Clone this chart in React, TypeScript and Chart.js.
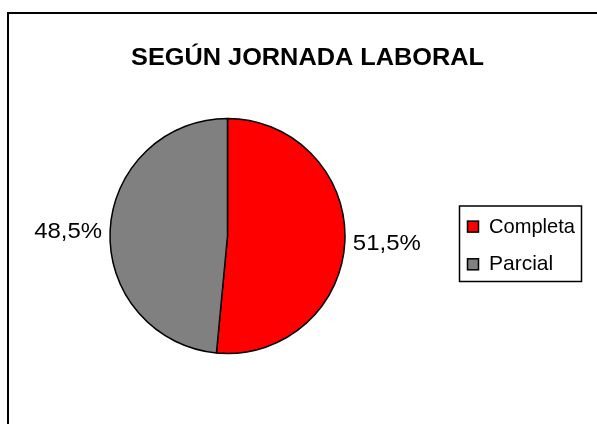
import React, { useEffect, useRef } from "react";
import { Chart, registerables } from "chart.js";

Chart.register(...registerables);

const chartTitle = "SEGÚN JORNADA LABORAL";
const categories = ["Completa", "Parcial"];
const shares = [51.5, 48.5];
const sliceColors = ["#FF0000", "#808080"];

const FONT = "'Liberation Sans', Arial, Helvetica, sans-serif";

function drawText(
  ctx: CanvasRenderingContext2D,
  text: string,
  x: number,
  baseline: number,
  font: string,
  align: "left" | "right" | "center",
  targetWidth?: number
) {
  ctx.save();
  ctx.font = font;
  ctx.fillStyle = "#000";
  ctx.textBaseline = "alphabetic";
  ctx.textAlign = "left";
  const w = ctx.measureText(text).width;
  const sx = targetWidth ? targetWidth / w : 1;
  const drawnW = w * sx;
  let left = x;
  if (align === "right") left = x - drawnW;
  if (align === "center") left = x - drawnW / 2;
  ctx.translate(left, baseline);
  ctx.scale(sx, 1);
  ctx.fillText(text, 0, 0);
  ctx.restore();
}

const decorPlugin = {
  id: "decor",
  afterDraw(chart: any) {
    const ctx: CanvasRenderingContext2D = chart.ctx;
    // outer frame
    ctx.save();
    ctx.strokeStyle = "#000";
    ctx.lineWidth = 2;
    ctx.strokeRect(8, 13, 800, 600);
    ctx.restore();

    // title
    drawText(ctx, chartTitle, 307.5, 64.8, `bold 23px ${FONT}`, "center", 353);

    // data labels
    const meta = chart.getDatasetMeta(0);
    const data: number[] = chart.data.datasets[0].data;
    const total = data.reduce((a, b) => a + b, 0);
    meta.data.forEach((arc: any, i: number) => {
      const p = arc.getProps(["x", "y", "startAngle", "endAngle", "outerRadius"], true);
      const mid = (p.startAngle + p.endAngle) / 2;
      const r = p.outerRadius + 8;
      const px = p.x + Math.cos(mid) * r;
      const py = p.y + Math.sin(mid) * r;
      const size = 22.5;
      const txt = ((data[i] / total) * 100).toFixed(1).replace(".", ",") + "%";
      const align = Math.cos(mid) >= 0 ? "left" : "right";
      drawText(ctx, txt, px, py + size * 0.716 / 2, `${size}px ${FONT}`, align, 68);
    });

    // legend
    ctx.save();
    ctx.strokeStyle = "#000";
    ctx.lineWidth = 1.5;
    ctx.strokeRect(459.5, 206, 122, 75.5);
    const labels: string[] = chart.data.labels;
    const colors: string[] = chart.data.datasets[0].backgroundColor;
    labels.forEach((lab, i) => {
      const base = 232.6 + i * 37.7;
      ctx.fillStyle = colors[i];
      ctx.fillRect(467.5, base - 11.5, 11, 11);
      ctx.lineWidth = 1.5;
      ctx.strokeStyle = "#000";
      ctx.strokeRect(467.5, base - 11.5, 11, 11);
      drawText(ctx, lab, 489, base, `21px ${FONT}`, "left", i === 0 ? 86 : undefined);
    });
    ctx.restore();
  },
};

export default function App() {
  const ref = useRef<HTMLCanvasElement>(null);
  useEffect(() => {
    document.body.style.margin = "0";
    document.body.style.overflow = "hidden";
    const chart = new Chart(ref.current!, {
      type: "pie",
      data: {
        labels: categories,
        datasets: [
          {
            data: shares,
            backgroundColor: sliceColors,
            borderColor: "#000",
            borderWidth: 1.5,
          },
        ],
      },
      options: {
        responsive: false,
        animation: false,
        radius: 117.5,
        layout: { padding: { left: 107.5, right: 249.5, top: 116, bottom: 68 } },
        plugins: {
          legend: { display: false },
          title: { display: false },
          tooltip: { enabled: false },
        },
      } as any,
      plugins: [decorPlugin],
    });
    return () => chart.destroy();
  }, []);
  return (
    <div style={{ position: "fixed", left: 0, top: 0, width: 597, height: 424, background: "#fff", overflow: "hidden" }}>
      <canvas ref={ref} width={597} height={424} style={{ display: "block", width: 597, height: 424 }} />
    </div>
  );
}
